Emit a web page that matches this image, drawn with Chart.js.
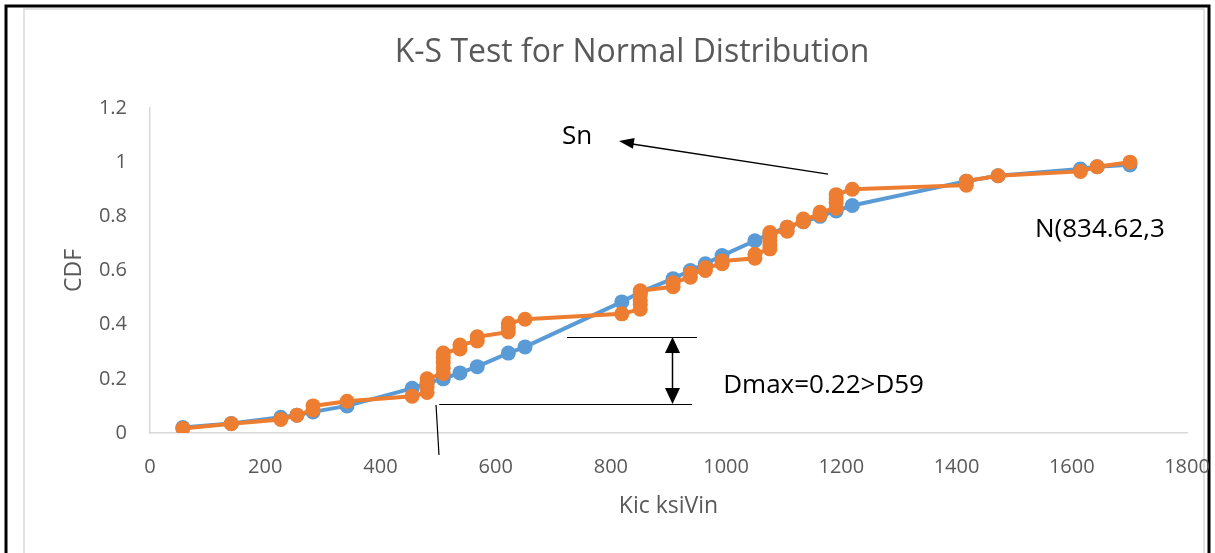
<!DOCTYPE html>
<html>
<head>
<meta charset="utf-8">
<script src="https://cdn.jsdelivr.net/npm/chart.js@4"></script>
<style>
html,body{margin:0;padding:0;background:#fff;}
#wrap{position:relative;width:1215px;height:553px;}
</style>
</head>
<body>
<div id="wrap"><canvas id="c" width="1215" height="553"></canvas></div>
<script>
const chartTitle = "K-S Test for Normal Distribution";
const xAxisTitle = "Kic ksiVin";
const yAxisTitle = "CDF";
const xTicks = [0,200,400,600,800,1000,1200,1400,1600,1800];
const yTicks = [0,0.2,0.4,0.6,0.8,1,1.2];

// Normal CDF series (blue)
const normalX = [57,141,227,255,283,342,455,481,509,538,568,622,651,819,851,908,938,964,993,1050,1076,1106,1134,1163,1191,1219,1417,1472,1615,1644,1701];
const normalY = [0.02,0.035,0.058,0.066,0.078,0.1,0.165,0.185,0.2,0.222,0.245,0.295,0.318,0.484,0.52,0.57,0.6,0.625,0.655,0.71,0.735,0.76,0.78,0.8,0.82,0.84,0.93,0.95,0.975,0.983,0.99];

// Empirical CDF Sn (orange)
const snX = [57,141,227,255,283,283,342,455,481,481,481,481,509,509,509,509,509,538,538,568,568,622,622,622,651,819,851,851,851,851,851,908,908,938,938,964,964,993,993,1050,1050,1076,1076,1076,1076,1076,1106,1106,1134,1134,1163,1163,1191,1191,1191,1191,1219,1417,1417,1472,1615,1644,1701];
const snY = [0.017,0.034,0.05,0.066,0.085,0.1,0.117,0.136,0.15,0.17,0.185,0.2,0.22,0.24,0.26,0.28,0.295,0.31,0.325,0.34,0.355,0.373,0.39,0.405,0.42,0.44,0.457,0.475,0.49,0.51,0.525,0.54,0.555,0.575,0.59,0.6,0.61,0.625,0.635,0.645,0.66,0.68,0.695,0.71,0.725,0.74,0.745,0.76,0.78,0.79,0.805,0.815,0.83,0.85,0.865,0.88,0.9,0.915,0.93,0.95,0.966,0.983,1.0];

// annotation texts
const noteSn = "Sn";
const noteN = "N(834.62,3";
const noteD = "Dmax=0.22>D59";

const FONT = "'Open Sans', 'DejaVu Sans', sans-serif";
const GREY = "#595959";

const frame = {
  id: 'frame',
  beforeDraw(chart) {
    const ctx = chart.ctx;
    ctx.save();
    ctx.fillStyle = '#fff';
    ctx.fillRect(0,0,chart.width,chart.height);
    ctx.strokeStyle = '#d9d9d9';
    ctx.lineWidth = 1.5;
    ctx.beginPath();
    ctx.moveTo(24, 553); ctx.lineTo(24, 9); ctx.lineTo(1204, 9); ctx.lineTo(1204, 553);
    ctx.stroke();
    ctx.strokeStyle = '#000';
    ctx.lineWidth = 3;
    ctx.beginPath();
    ctx.moveTo(6, 553); ctx.lineTo(6, 6); ctx.lineTo(1209, 6); ctx.lineTo(1209, 553);
    ctx.stroke();
    // chart title
    ctx.fillStyle = GREY;
    ctx.font = "32px " + FONT;
    ctx.textAlign = 'center';
    ctx.textBaseline = 'middle';
    ctx.fillText(chartTitle, 632, 53);
    ctx.restore();
  }
};

function arrowHead(ctx, tx, ty, fx, fy, len, half) {
  const a = Math.atan2(ty - fy, tx - fx);
  ctx.beginPath();
  ctx.moveTo(tx, ty);
  ctx.lineTo(tx - len*Math.cos(a) + half*Math.sin(a), ty - len*Math.sin(a) - half*Math.cos(a));
  ctx.lineTo(tx - len*Math.cos(a) - half*Math.sin(a), ty - len*Math.sin(a) + half*Math.cos(a));
  ctx.closePath();
  ctx.fill();
}

const notes = {
  id: 'notes',
  afterDraw(chart) {
    const ctx = chart.ctx;
    const xs = chart.scales.x, ys = chart.scales.y;
    const X = v => xs.getPixelForValue(v), Y = v => ys.getPixelForValue(v);
    const R = v => Math.round(v) + 0.5;
    ctx.save();
    ctx.strokeStyle = '#000';
    ctx.fillStyle = '#000';
    ctx.lineWidth = 1.4;
    // Sn arrow
    const t0x = X(1177), t0y = Y(0.956), h0x = X(814), h0y = Y(1.078);
    ctx.beginPath(); ctx.moveTo(t0x, t0y); ctx.lineTo(h0x + 10, h0y + 2.5); ctx.stroke();
    arrowHead(ctx, h0x, h0y, t0x, t0y, 15, 5.5);
    // Dmax dimension lines
    ctx.lineWidth = 1.2;
    ctx.beginPath();
    ctx.moveTo(X(724), R(Y(0.3545))); ctx.lineTo(X(949.5), R(Y(0.3545)));
    ctx.moveTo(X(502), R(Y(0.107))); ctx.lineTo(X(941), R(Y(0.107)));
    ctx.moveTo(X(496.5), Y(0.1034)); ctx.lineTo(X(501.6), Y(-0.081));
    ctx.stroke();
    const ax = R(X(906)), ay1 = Y(0.3545), ay2 = Y(0.107);
    ctx.lineWidth = 1.5;
    ctx.beginPath(); ctx.moveTo(ax, ay1 + 10); ctx.lineTo(ax, ay2 - 10); ctx.stroke();
    arrowHead(ctx, ax, ay1, ax, ay2, 16, 7.5);
    arrowHead(ctx, ax, ay2, ax, ay1, 16, 7.5);
    // texts
    ctx.font = "26px " + FONT;
    ctx.textBaseline = 'middle';
    ctx.textAlign = 'left';
    ctx.fillText(noteSn, X(715), Y(1.093));
    ctx.fillText(noteN, X(1536), Y(0.75));
    ctx.fillText(noteD, X(995), Y(0.1735));
    ctx.restore();
  }
};

new Chart(document.getElementById('c'), {
  type: 'scatter',
  data: {
    datasets: [
      {
        label: 'Sn',
        data: snX.map((x, i) => ({x, y: snY[i]})),
        showLine: true,
        borderColor: '#ED7D31',
        backgroundColor: '#ED7D31',
        borderWidth: 4,
        pointRadius: 7.5,
        pointBackgroundColor: '#ED7D31',
        pointBorderColor: '#ED7D31',
        pointBorderWidth: 0,
        order: 0
      },
      {
        label: 'Normal',
        data: normalX.map((x, i) => ({x, y: normalY[i]})),
        showLine: true,
        borderColor: '#5B9BD5',
        backgroundColor: '#5B9BD5',
        borderWidth: 4,
        pointRadius: 7.5,
        pointBackgroundColor: '#5B9BD5',
        pointBorderColor: '#5B9BD5',
        pointBorderWidth: 0,
        order: 1
      }
    ]
  },
  options: {
    responsive: false,
    animation: false,
    devicePixelRatio: 1,
    layout: { padding: { left: 0, right: 28, top: 108, bottom: 0 } },
    plugins: {
      legend: { display: false },
      tooltip: { enabled: false },
      title: { display: false }
    },
    scales: {
      x: {
        type: 'linear',
        min: 0, max: 1800,
        afterBuildTicks: s => { s.ticks = xTicks.map(v => ({value: v})); },
        afterFit: s => { s.height = 120; s.paddingLeft = 0; s.paddingRight = 0; },
        grid: { display: false, drawTicks: false },
        border: { display: true, color: '#d9d9d9', width: 1.5 },
        ticks: { color: GREY, font: { family: FONT, size: 20 }, padding: 22, maxRotation: 0, autoSkip: false, callback: v => String(v) },
        title: { display: true, text: xAxisTitle, color: GREY, font: { family: FONT, size: 23 }, padding: { bottom: 33, top: 0 } }
      },
      y: {
        type: 'linear',
        min: 0, max: 1.2,
        afterBuildTicks: s => { s.ticks = yTicks.map(v => ({value: v})); },
        afterFit: s => { s.width = 150; s.paddingTop = 0; s.paddingBottom = 0; },
        grid: { display: false, drawTicks: false },
        border: { display: true, color: '#d9d9d9', width: 1.5 },
        ticks: { color: GREY, font: { family: FONT, size: 20 }, padding: 23, callback: v => String(v) },
        title: { display: true, text: yAxisTitle, color: GREY, font: { family: FONT, size: 23 }, padding: { top: 61, bottom: 0 } }
      }
    }
  },
  plugins: [frame, notes]
});
</script>
</body>
</html>
